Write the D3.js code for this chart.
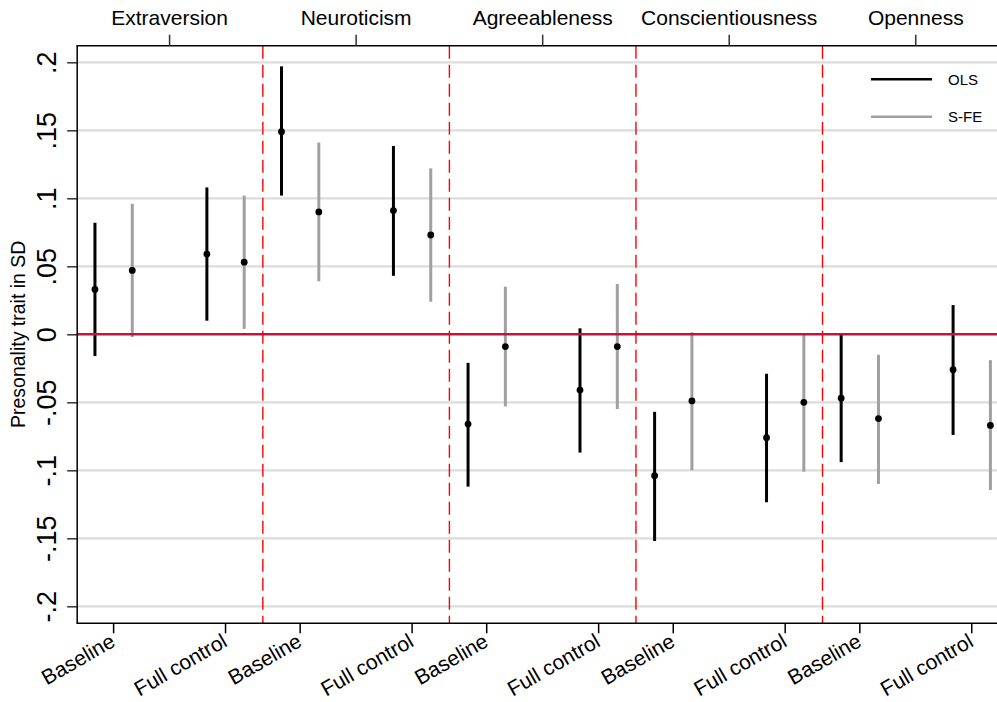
<!DOCTYPE html>
<html>
<head>
<meta charset="utf-8">
<script src="https://cdn.jsdelivr.net/npm/d3@7"></script>
<style>
  html, body { margin: 0; padding: 0; background: #fff; overflow: hidden; }
  svg { display: block; font-family: "Liberation Sans", Arial, sans-serif; }
</style>
</head>
<body>
<svg id="chart" width="997" height="702"></svg>
<script>
// ---- data ----
const traits = ["Extraversion", "Neuroticism", "Agreeableness", "Conscientiousness", "Openness"];
const specs = ["Baseline", "Full control"];
const series = ["OLS", "S-FE"];
const yTicks = [0.2, 0.15, 0.1, 0.05, 0, -0.05, -0.1, -0.15, -0.2];
const yTickLabels = [".2", ".15", ".1", ".05", "0", "-.05", "-.1", "-.15", "-.2"];
// order: trait x spec (Baseline, Full control)
const olsEst = [0.033, 0.059, 0.149, 0.091, -0.066, -0.041, -0.104, -0.076, -0.047, -0.026];
const olsLo  = [-0.016, 0.010, 0.102, 0.043, -0.112, -0.087, -0.152, -0.1235, -0.094, -0.074];
const olsHi  = [0.082, 0.108, 0.197, 0.1385, -0.021, 0.0044, -0.057, -0.029, 0.000, 0.0215];
const sfeEst = [0.047, 0.053, 0.090, 0.073, -0.009, -0.009, -0.049, -0.050, -0.062, -0.067];
const sfeLo  = [-0.002, 0.004, 0.039, 0.024, -0.053, -0.055, -0.100, -0.101, -0.110, -0.1145];
const sfeHi  = [0.096, 0.102, 0.141, 0.122, 0.035, 0.037, 0.0015, 0.0007, -0.015, -0.019];

// ---- layout ----
const plotTop = 45.7, plotBottom = 623.3, plotLeft = 77.2, plotRight = 997;
const x = d3.scaleLinear().domain([0, traits.length]).range([76.3, 76.3 + 5 * 186.55]);
const y = d3.scaleLinear().domain([-0.2, 0.2]).range([606.3, 62.3]);
const specOffset = { "Baseline": 0.2, "Full control": 0.8 };
const seriesOffset = { "OLS": -0.1, "S-FE": 0.1 };
const colors = { "OLS": "#000000", "S-FE": "#a0a0a0" };

const rows = [];
traits.forEach((t, i) => specs.forEach((s, j) => {
  const k = i * specs.length + j;
  rows.push({ trait: t, ti: i, spec: s, series: "OLS", est: olsEst[k], lo: olsLo[k], hi: olsHi[k] });
  rows.push({ trait: t, ti: i, spec: s, series: "S-FE", est: sfeEst[k], lo: sfeLo[k], hi: sfeHi[k] });
}));
const px = d => x(d.ti + specOffset[d.spec] + seriesOffset[d.series]);

const svg = d3.select("#chart");

// gridlines
svg.append("g").selectAll("line").data(yTicks.filter(v => v !== 0)).join("line")
  .attr("x1", plotLeft).attr("x2", plotRight)
  .attr("y1", d => y(d)).attr("y2", d => y(d))
  .attr("stroke", "#dcdcdc").attr("stroke-width", 2.2);

// group separators
svg.append("g").selectAll("line").data(d3.range(1, traits.length)).join("line")
  .attr("x1", d => x(d)).attr("x2", d => x(d))
  .attr("y1", plotTop).attr("y2", plotBottom)
  .attr("stroke", "#ff0000").attr("stroke-width", 1.4)
  .attr("stroke-dasharray", "13,6");

// CI bars
svg.append("g").selectAll("line").data(rows).join("line")
  .attr("x1", px).attr("x2", px)
  .attr("y1", d => y(d.lo)).attr("y2", d => y(d.hi))
  .attr("stroke", d => colors[d.series]).attr("stroke-width", 3);

// zero line
svg.append("line")
  .attr("x1", plotLeft).attr("x2", plotRight)
  .attr("y1", y(0)).attr("y2", y(0))
  .attr("stroke", "#c8103e").attr("stroke-width", 2.5);

// points
svg.append("g").selectAll("circle").data(rows).join("circle")
  .attr("cx", px).attr("cy", d => y(d.est)).attr("r", 3.4)
  .attr("fill", "#000");

// left axis
const yAxis = d3.axisLeft(y).tickValues(yTicks)
  .tickFormat((d, i) => yTickLabels[i]).tickSize(10).tickSizeOuter(0).tickPadding(0);
const gy = svg.append("g").attr("transform", `translate(${plotLeft},0)`).call(yAxis);
gy.select(".domain").remove();
gy.selectAll(".tick line").attr("stroke", "#333").attr("stroke-width", 1.5);
gy.selectAll(".tick text")
  .attr("font-size", 27).attr("fill", "#000")
  .attr("text-anchor", "middle")
  .attr("transform", "translate(-21,0) rotate(-90)")
  .attr("x", 0).attr("y", 0).attr("dy", 0);
svg.append("line").attr("x1", plotLeft).attr("x2", plotLeft)
  .attr("y1", plotTop).attr("y2", plotBottom).attr("stroke", "#000").attr("stroke-width", 1.5);

// bottom axis
const bottomTicks = [];
traits.forEach((t, i) => specs.forEach(s => bottomTicks.push({ v: i + specOffset[s], label: s })));
const gb = svg.append("g");
gb.append("line").attr("x1", plotLeft - 0.75).attr("x2", plotRight)
  .attr("y1", plotBottom).attr("y2", plotBottom).attr("stroke", "#000").attr("stroke-width", 1.5);
const bt = gb.selectAll("g.bt").data(bottomTicks).join("g").attr("class", "bt")
  .attr("transform", d => `translate(${x(d.v)},${plotBottom})`);
bt.append("line").attr("y1", 0).attr("y2", 10).attr("stroke", "#000").attr("stroke-width", 1.5);
bt.append("text").text(d => d.label)
  .attr("font-size", 21).attr("text-anchor", "end")
  .attr("transform", "translate(3,22) rotate(-30)");

// top axis
const gt = svg.append("g");
gt.append("line").attr("x1", plotLeft - 0.75).attr("x2", plotRight)
  .attr("y1", plotTop).attr("y2", plotTop).attr("stroke", "#000").attr("stroke-width", 1.5);
const tt = gt.selectAll("g.tt").data(traits).join("g").attr("class", "tt")
  .attr("transform", (d, i) => `translate(${x(i + 0.5)},${plotTop})`);
tt.append("line").attr("y1", 0).attr("y2", -11).attr("stroke", "#333").attr("stroke-width", 1.5);
tt.append("text").text(d => d).attr("font-size", 21).attr("text-anchor", "middle").attr("y", -20.5);

// y title
svg.append("text").text("Presonality trait in SD")
  .attr("font-size", 19.5).attr("text-anchor", "middle")
  .attr("transform", `translate(25,${y(0)}) rotate(-90)`);

// legend
const lg = svg.append("g").selectAll("g").data(series).join("g")
  .attr("transform", (d, i) => `translate(871,${79.3 + i * 37.4})`);
lg.append("line").attr("x1", 0).attr("x2", 61).attr("stroke", d => colors[d]).attr("stroke-width", 2.6);
lg.append("text").text(d => d).attr("x", 77).attr("y", 5.5).attr("font-size", 15);
</script>
</body>
</html>
